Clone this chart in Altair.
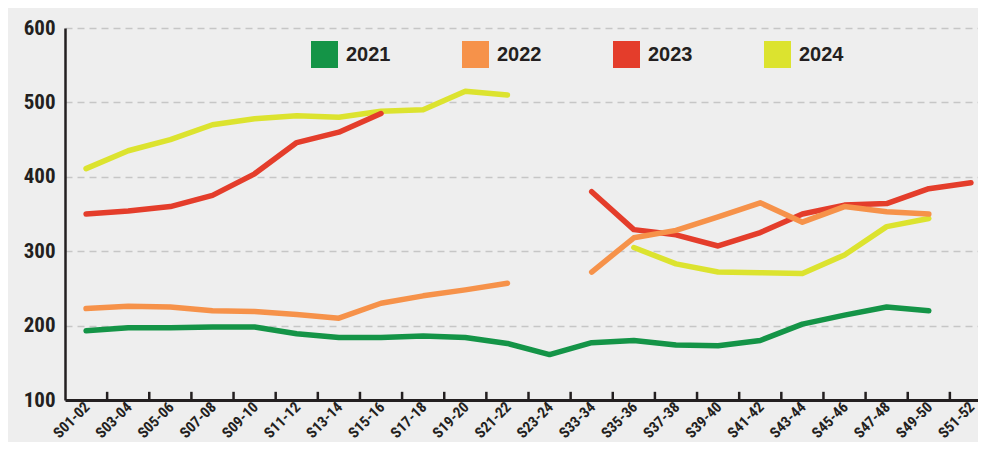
import altair as alt
import pandas as pd

weeks = ["S01-02", "S03-04", "S05-06", "S07-08", "S09-10", "S11-12", "S13-14",
         "S15-16", "S17-18", "S19-20", "S21-22", "S23-24", "S33-34", "S35-36",
         "S37-38", "S39-40", "S41-42", "S43-44", "S45-46", "S47-48", "S49-50",
         "S51-52"]
years = ["2021", "2022", "2023", "2024"]
v2021 = [193, 197, 197, 198, 198, 189, 184, 184, 186, 184, 176, 161,
         177, 180, 174, 173, 180, 202, 214, 225, 220, None]
v2022 = [223, 226, 225, 220, 219, 215, 210, 230, 240, 248, 257, None,
         272, 318, 328, 346, 365, 339, 360, 353, 350, None]
v2023 = [350, 354, 360, 375, 404, 446, 460, 485, None, None, None, None,
         380, 329, 322, 307, 325, 350, 362, 364, 384, 392]
v2024 = [411, 435, 450, 470, 478, 482, 480, 488, 490, 515, 510, None,
         None, 305, 283, 272, 271, 270, 295, 333, 344, None]
colors = ["#149447", "#f6924a", "#e43d2b", "#dce32f"]
y_values = [100, 200, 300, 400, 500, 600]
draw_order = ["2021", "2024", "2023", "2022"]

series = {"2021": v2021, "2022": v2022, "2023": v2023, "2024": v2024}
rows = []
for yr, vals in series.items():
    seg = 0
    prev = None
    for w, v in zip(weeks, vals):
        if v is None:
            if prev is not None:
                seg += 1
            prev = None
            continue
        rows.append({"week": w, "year": yr, "value": v, "seg": f"{yr}-{seg}"})
        prev = v
df = pd.DataFrame(rows)
ticks_df = pd.DataFrame({"week": weeks[:-1]})

INK = "#231f20"
FONT_C = "Liberation Sans Narrow, Roboto Condensed, DejaVu Sans Condensed, sans-serif"
FONT_B = "Liberation Sans, Arial, sans-serif"

x_scale = alt.Scale(type="band", domain=weeks, range=[0, 927],
                    paddingInner=0, paddingOuter=0)
y_scale = alt.Scale(domain=[100, 600], nice=False, zero=False)
color_scale = alt.Scale(domain=years, range=colors)

x_axis = alt.Axis(title=None, labelAngle=-45, labelAlign="right",
                  labelBaseline="middle", labelFont=FONT_C, labelFontSize=15,
                  labelFontWeight="bold", labelColor=INK, labelPadding=4,
                  labelOffset=1, ticks=False, tickSize=0, grid=False,
                  domainColor=INK, domainWidth=3, labelOverlap=False)
y_axis = alt.Axis(title=None, values=y_values, grid=True, gridDash=[7, 5],
                  gridColor="#c6c6c6", gridWidth=1.5, domainColor=INK,
                  domainWidth=2.5, ticks=False, tickSize=0, labelPadding=10,
                  labelFont=FONT_C, labelFontSize=21, labelFontWeight="bold",
                  labelColor=INK)

legend = alt.Legend(title=None, orient="none", legendX=246, legendY=13,
                    direction="horizontal", symbolType="square",
                    symbolSize=729, symbolStrokeWidth=0, symbolOpacity=1,
                    labelFont=FONT_B,
                    labelFontSize=20, labelFontWeight="bold", labelColor=INK,
                    labelOffset=8, columnPadding=71, padding=0)

ticks = alt.Chart(ticks_df).mark_rule(color=INK, strokeWidth=2.5).encode(
    x=alt.X("week:N", scale=x_scale, axis=x_axis, bandPosition=1),
    y=alt.YDatum(100, type="quantitative", scale=y_scale, axis=y_axis),
    y2=alt.Y2Datum(111),
)

legend_layer = alt.Chart(df).mark_square(filled=True, opacity=1).encode(
    x=alt.X("week:N", scale=x_scale, axis=x_axis, bandPosition=0.5),
    y=alt.Y("value:Q", scale=y_scale, axis=y_axis),
    color=alt.Color("year:N", scale=color_scale, legend=legend),
).transform_filter("false")

lines = []
for yr in draw_order:
    lines.append(
        alt.Chart(df).transform_filter(alt.datum.year == yr)
        .mark_line(strokeWidth=5.5, strokeCap="round", strokeJoin="round")
        .encode(
            x=alt.X("week:N", scale=x_scale, axis=x_axis, bandPosition=0.5),
            y=alt.Y("value:Q", scale=y_scale, axis=y_axis),
            color=alt.Color("year:N", scale=color_scale, legend=None),
            detail="seg:N",
        )
    )

chart = alt.layer(ticks, legend_layer, *lines).properties(
    width=913, height=372, background="#eeeeee",
    padding={"left": 57, "top": 20, "right": 0, "bottom": 42},
    autosize=alt.AutoSizeParams(type="none"),
).configure_view(stroke=None)

chart.save("out.html", embed_options={"renderer": "svg", "actions": False})
